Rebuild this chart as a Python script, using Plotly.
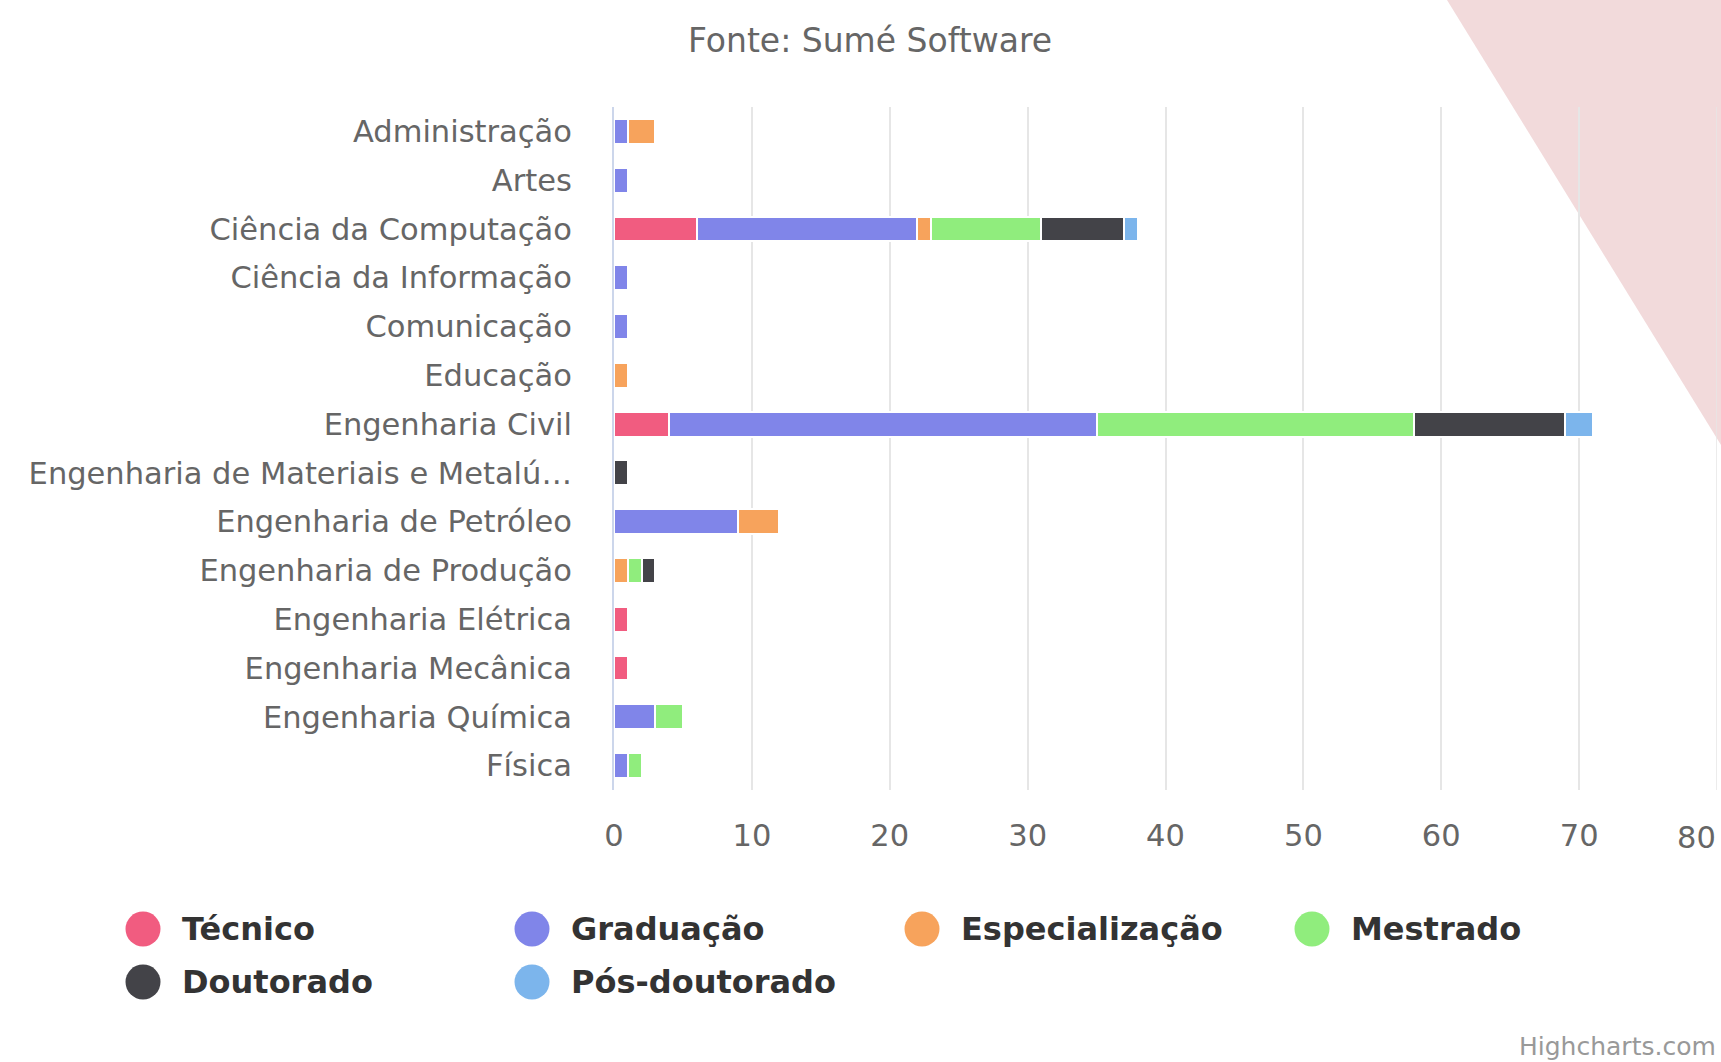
import plotly.graph_objects as go

# ---------------- data ----------------
categories = [
    "Administração", "Artes", "Ciência da Computação", "Ciência da Informação",
    "Comunicação", "Educação", "Engenharia Civil", "Engenharia de Materiais e Metalú…",
    "Engenharia de Petróleo", "Engenharia de Produção", "Engenharia Elétrica",
    "Engenharia Mecânica", "Engenharia Química", "Física",
]
series_names = ["Técnico", "Graduação", "Especialização", "Mestrado", "Doutorado", "Pós-doutorado"]
tecnico        = [0, 0, 6, 0, 0, 0, 4, 0, 0, 0, 1, 1, 0, 0]
graduacao      = [1, 1, 16, 1, 1, 0, 31, 0, 9, 0, 0, 0, 3, 1]
especializacao = [2, 0, 1, 0, 0, 1, 0, 0, 3, 1, 0, 0, 0, 0]
mestrado       = [0, 0, 8, 0, 0, 0, 23, 0, 0, 1, 0, 0, 2, 1]
doutorado      = [0, 0, 6, 0, 0, 0, 11, 1, 0, 1, 0, 0, 0, 0]
posdoutorado   = [0, 0, 1, 0, 0, 0, 2, 0, 0, 0, 0, 0, 0, 0]
x_ticks = [0, 10, 20, 30, 40, 50, 60, 70, 80]

colors = ["#f15c80", "#8085e9", "#f7a35c", "#90ed7d", "#434348", "#7cb5ec"]
series_values = [tecnico, graduacao, especializacao, mestrado, doutorado, posdoutorado]

# ---------------- layout geometry (pixels) ----------------
W, H = 1721, 1062
L, R, T, B = 614, 1717, 107, 790
FONT = "DejaVu Sans"
TICK_SIZE = 30.5


def px(x):
    return (x - L) / (R - L)


def py(y):
    return (B - y) / (B - T)


fig = go.Figure()
for name, vals, col in zip(series_names, series_values, colors):
    fig.add_trace(go.Bar(
        y=categories,
        x=[v if v else None for v in vals],
        name=name,
        orientation="h",
        marker=dict(color=col, line=dict(color="#ffffff", width=2)),
        showlegend=False,
    ))

shapes = []
# decorative pink triangle top-right
shapes.append(dict(
    type="path", xref="paper", yref="paper", layer="below",
    path=f"M {px(1447)} {py(0)} L {px(1721)} {py(0)} L {px(1721)} {py(445)} Z",
    fillcolor="#f2dadb", line=dict(width=0),
))

annotations = [
    dict(text="Fonte: Sumé Software", xref="paper", yref="paper",
         x=px(870), y=py(40), xanchor="center", yanchor="middle", showarrow=False,
         font=dict(family=FONT, size=33, color="#666666")),
    dict(text="Highcharts.com", xref="paper", yref="paper",
         x=px(1718), y=py(1046), xanchor="right", yanchor="middle", showarrow=False,
         font=dict(family=FONT, size=25, color="#999999")),
]

# last x tick label is pulled inside the chart edge (as Highcharts does)
last_tick = x_ticks[-1]
annotations.append(dict(
    text=str(last_tick), xref="paper", yref="paper",
    x=px(1718), y=py(837), xanchor="right", yanchor="middle", showarrow=False,
    font=dict(family=FONT, size=TICK_SIZE, color="#666666"),
))

# custom legend (large round symbols like Highcharts)
legend_pos = [(143, 929), (532, 929), (922, 929), (1312, 929), (143, 982), (532, 982)]
r = 17.5
for (cx, cy), name, col in zip(legend_pos, series_names, colors):
    shapes.append(dict(
        type="circle", xref="paper", yref="paper",
        x0=px(cx - r), x1=px(cx + r), y0=py(cy + r), y1=py(cy - r),
        fillcolor=col, line=dict(width=0),
    ))
    annotations.append(dict(
        text=name, xref="paper", yref="paper", x=px(cx + 37), y=py(cy),
        xanchor="left", yanchor="middle", showarrow=False,
        font=dict(family=FONT, size=32, color="#333333", weight="bold"),
    ))

fig.update_layout(
    width=W, height=H,
    margin=dict(l=L, r=W - R, t=T, b=H - B, autoexpand=False),
    paper_bgcolor="#ffffff", plot_bgcolor="rgba(0,0,0,0)",
    barmode="stack", bargap=0.49,
    showlegend=False,
    shapes=shapes, annotations=annotations,
    font=dict(family=FONT, color="#666666"),
    xaxis=dict(
        range=[0, 80], tickvals=x_ticks[:-1], ticktext=[str(v) for v in x_ticks[:-1]],
        showgrid=True, gridcolor="#e6e6e6", gridwidth=1.5, zeroline=False,
        showline=False, ticks="", ticklabelstandoff=24,
        tickfont=dict(family=FONT, size=TICK_SIZE, color="#666666"),
    ),
    yaxis=dict(
        categoryorder="array", categoryarray=categories,
        autorange="reversed", showgrid=False, zeroline=False,
        showline=True, linecolor="#ccd6eb", linewidth=2, ticks="",
        ticklabelstandoff=34,
        tickfont=dict(family=FONT, size=TICK_SIZE, color="#666666"),
    ),
)
# gridline at 80 (right edge) as in the reference
fig.add_shape(type="line", xref="x", yref="paper", x0=last_tick, x1=last_tick, y0=0, y1=1,
              line=dict(color="#e6e6e6", width=1.5), layer="below")

fig.write_html("out.html", config={"displayModeBar": False},
               post_script="document.body.style.margin='0px';")
